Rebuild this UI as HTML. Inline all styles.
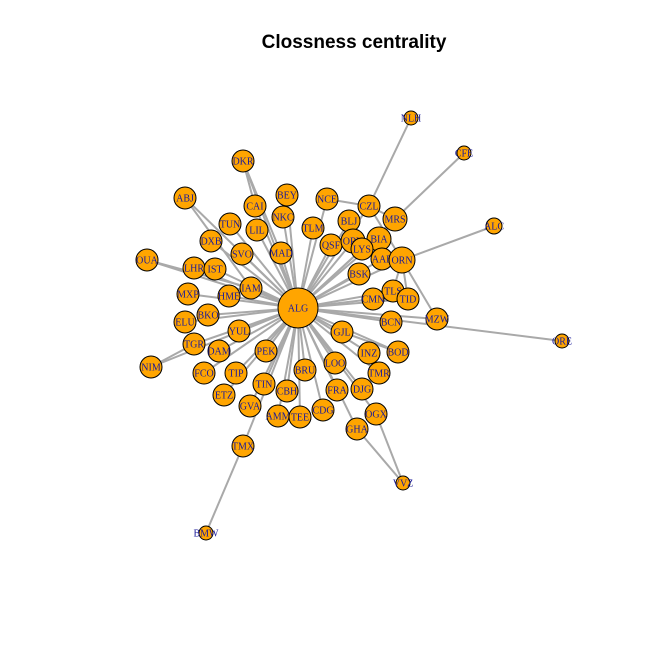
<!DOCTYPE html>
<html><head><meta charset="utf-8"><style>
body{margin:0;background:#fff;}
svg{display:block;}
</style></head><body>
<svg id="chart" width="672" height="671" xmlns="http://www.w3.org/2000/svg">
<rect width="672" height="671" fill="#fff"/>
<text x="354" y="48" text-anchor="middle" font-family="Liberation Sans, sans-serif" font-weight="bold" font-size="19">Clossness centrality</text>
<g id="edges"></g>
<g id="nodes"></g>
</svg>
<script>
const nodeNames = ["ALG","NLH","CFE","ALC","ORE","VVZ","BMW","TMX","DKR","ABJ","BEY","CAI","NKC","LIL","TUN","DXB","SVO","MAD","OUA","LHR","IST","IAM","MXP","HME","BKO","ELU","YUL","NCE","TLM","BLJ","CZL","MRS","QSF","ORY","BIA","LYS","AAE","ORN","BSK","TLS","TID","CMN","BCN","MZW","GJL","TGR","DAM","NIM","PEK","FCO","TIP","BRU","LOO","INZ","BOD","TMR","TIN","CBH","FRA","DJG","ETZ","GVA","AMM","TEE","CDG","OGX","GHA"];
const nodeX = [298,411,464,494,562,403,206,243,243,185,287,255,283,257,230,211,242,281,147,194,215,251,188,229,208,185,239,327,313,349,369,395,331,353,379,362,382,402,359,393,408,373,391,437,342,194,219,151,266,204,236,305,335,369,398,379,264,287,337,362,224,250,278,300,323,376,357];
const nodeY = [308,118,153,226,341,483,533,446,161,198,195,206,217,230,224,241,254,253,260,268,269,288,294,296,315,322,331,199,228,221,206,219,245,241,239,249,259,260,274,291,299,299,322,319,332,344,351,367,351,373,373,370,363,353,352,373,384,391,390,389,395,406,416,417,410,414,429];
const nodeSize = [20,7,7,8,7,7,7,11,11,11,11,11,11,11,11,11,11,11,11,11,11,11,11,11,11,11,11,11,11,11,11,12,11,12,12,11,11,13,11,11,11,11,11,11,11,11,11,11,11,11,11,11,11,11,11,11,11,11,11,11,11,11,11,11,11,11,11];
const edgeFrom = ["NLH","CFE","ALC","ORE","VVZ","VVZ","BMW","TMX","DKR","ABJ","OUA","NIM","MZW","TID","NCE","CZL","DKR","BOD","TMR","TLS","CZL","BIA"];
const edgeTo   = ["CZL","MRS","ORN","ALG","GHA","OGX","TMX","ALG","MAD","IAM","IAM","TGR","ORN","ORN","CZL","MRS","CAI","GJL","INZ","ORN","ORN","MRS"];
const ns="http://www.w3.org/2000/svg";
const idx = n => nodeNames.indexOf(n);
const E=document.getElementById('edges'), N=document.getElementById('nodes');
function line(a,b){
  const l=document.createElementNS(ns,'line');
  l.setAttribute('x1',nodeX[a]);l.setAttribute('y1',nodeY[a]);
  l.setAttribute('x2',nodeX[b]);l.setAttribute('y2',nodeY[b]);
  l.setAttribute('stroke','#a9a9a9');l.setAttribute('stroke-width','2');
  
  
  E.appendChild(l);
}
const outer=new Set(["NLH","CFE","ALC","ORE","VVZ","BMW","TMX"]);
nodeNames.forEach((n,i)=>{ if(i>0 && !outer.has(n)) line(i,0); });
edgeFrom.forEach((f,k)=>line(idx(f),idx(edgeTo[k])));
nodeNames.forEach((n,i)=>{
  const g=document.createElementNS(ns,'g');
  
  
  const c=document.createElementNS(ns,'circle');
  c.setAttribute('cx',nodeX[i]);c.setAttribute('cy',nodeY[i]);c.setAttribute('r',nodeSize[i]);
  c.setAttribute('fill','#ffa500');c.setAttribute('stroke','#000');c.setAttribute('stroke-width','1');
  
  
  const t=document.createElementNS(ns,'text');
  t.setAttribute('x',nodeX[i]);t.setAttribute('y',nodeY[i]+3.5);
  t.setAttribute('text-anchor','middle');
  t.setAttribute('font-family','Liberation Serif, serif');
  t.setAttribute('font-size','10');t.setAttribute('fill','#1a1a9a');
  
  
  t.textContent=n;
  g.appendChild(c);g.appendChild(t);N.appendChild(g);
});
</script>
</body></html>
